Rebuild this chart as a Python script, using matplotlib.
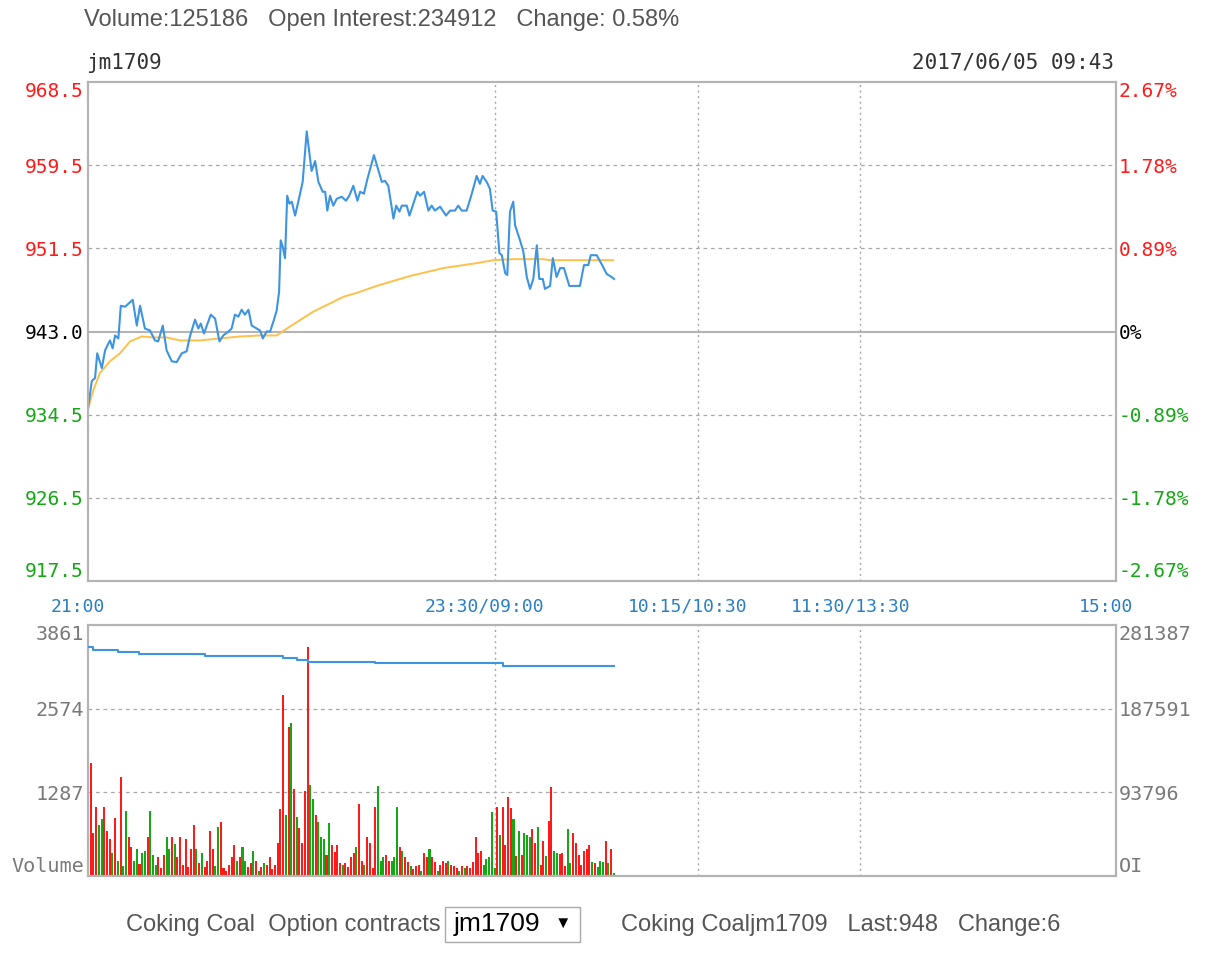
import matplotlib
matplotlib.use("Agg")
import matplotlib.pyplot as plt
from matplotlib.transforms import ScaledTranslation
from matplotlib.patches import Rectangle

W, H = 1211, 968

# contract info
pre_close = 943.0
pct_ticks = [2.67, 1.78, 0.89, 0.0, -0.89, -1.78, -2.67]
price_labels = ["968.5", "959.5", "951.5", "943.0", "934.5", "926.5", "917.5"]
pct_labels = ["2.67%", "1.78%", "0.89%", "0%", "-0.89%", "-1.78%", "-2.67%"]
time_ticks = [0, 150, 225, 285, 379.3]
time_labels = ["21:00", "23:30/09:00", "10:15/10:30", "11:30/13:30", "15:00"]
session_breaks = [150, 225, 285]

vol_max = 3861
oi_max = 281387
vol_ticks = [3861, 2574, 1287, 0]
vol_labels = ["3861", "2574", "1287", "Volume"]
oi_labels = ["281387", "187591", "93796", "OI"]

# price line (minutes from 21:00, price)
price_min = [0, 1.4, 2.6, 3.4, 5.1, 6.3, 8.1, 9.1, 10.0, 11.2,
             12.1, 13.7, 14.9, 16.5, 18.0, 19.2, 21.0, 22.9, 24.7, 25.9,
             27.6, 29.0, 30.9, 32.7, 34.6, 36.4, 37.6, 39.5, 40.7, 41.6,
             42.8, 45.3, 46.9, 48.5, 49.9, 51.8, 53.0, 54.2, 55.5, 56.7,
             57.9, 59.2, 60.4, 62.3, 63.5, 64.5, 65.9, 67.2, 68.4, 69.6,
             70.5, 71.1, 71.8, 72.7, 73.5, 74.3, 75.2, 76.4, 77.6, 79.2,
             80.7, 82.5, 83.8, 85.0, 86.6, 87.5, 88.3, 89.3, 90.5, 91.8,
             93.6, 95.2, 96.4, 97.9, 99.4, 100.4, 101.8, 103.1, 105.5, 108.4,
             109.6, 110.8, 112.7, 113.7, 114.9, 115.8, 117.6, 118.6, 119.8, 121.5,
             122.5, 124.0, 125.6, 126.8, 128.0, 129.9, 132.1, 133.6, 135.4, 136.6,
             137.9, 139.7, 141.6, 143.4, 144.6, 145.6, 147.1, 148.3, 149.3, 150.6,
             151.8, 152.7, 153.9, 154.7, 155.7, 156.9, 157.6, 159.4, 160.6, 161.9,
             163.1, 164.3, 165.6, 166.5, 167.8, 168.6, 170.5, 171.5, 172.9, 174.2,
             175.6, 177.6, 181.5, 183.0, 184.6, 185.5, 187.7, 189.9, 191.4, 193.2,
             194.1]
price_val = [935.2, 938.0, 938.3, 940.8, 939.3, 941.1, 942.1, 941.3, 942.6, 942.3,
             945.6, 945.5, 945.8, 946.2, 943.6, 945.6, 943.3, 943.1, 942.1, 942.0,
             943.6, 941.1, 940.0, 939.9, 940.8, 941.0, 942.5, 944.2, 943.3, 943.8,
             942.8, 944.7, 944.3, 942.0, 942.6, 943.0, 943.3, 944.7, 944.5, 945.2,
             944.7, 945.2, 943.6, 943.3, 943.1, 942.3, 943.0, 943.0, 944.0, 945.1,
             947.0, 952.2, 951.6, 950.4, 956.7, 955.9, 956.1, 954.7, 956.1, 958.1,
             963.2, 959.2, 960.2, 958.1, 957.1, 957.1, 955.2, 956.7, 955.7, 956.4,
             956.6, 956.2, 956.7, 957.7, 956.2, 957.1, 956.9, 958.4, 960.8, 958.1,
             958.2, 957.7, 954.4, 955.7, 955.1, 955.7, 955.7, 954.7, 955.7, 957.1,
             956.7, 957.1, 955.2, 955.7, 955.2, 955.6, 954.7, 955.2, 955.2, 955.7,
             955.2, 955.2, 956.9, 958.7, 957.9, 958.7, 958.1, 957.4, 955.2, 955.1,
             950.9, 950.7, 948.9, 948.7, 955.1, 956.1, 953.7, 952.2, 951.1, 948.5,
             947.3, 948.3, 951.7, 948.3, 948.3, 947.3, 947.6, 950.4, 948.5, 949.4,
             949.4, 947.6, 947.6, 949.7, 949.7, 950.7, 950.7, 949.6, 948.8, 948.5,
             948.3]

# average price line
avg_min = [0, 2.0, 4.4, 8.1, 11.8, 15.5, 19.8, 24.0, 29.0, 33.9,
           41.3, 48.7, 56.1, 63.5, 69.6, 74.5, 83.1, 90.5, 94.2, 99.2,
           106.5, 118.8, 131.1, 143.4, 149.6, 156.9, 168.0, 170.5, 193.8]
avg_val = [935.2, 937.1, 938.8, 940.0, 940.8, 942.0, 942.5, 942.4, 942.4, 942.1,
           942.1, 942.3, 942.5, 942.6, 942.6, 943.5, 945.0, 946.0, 946.5, 946.9,
           947.6, 948.6, 949.4, 949.9, 950.2, 950.3, 950.3, 950.2, 950.2]

# volume per minute, r = up, g = down
volume = [1620, 1733, 656, 1066, 784, 871, 1066, 692, 564, 359,
          886, 231, 1528, 150, 999, 605, 451, 231, 415, 180,
          359, 384, 605, 999, 323, 169, 297, 120, 323, 605,
          415, 605, 487, 297, 605, 169, 564, 144, 415, 784,
          415, 200, 359, 144, 231, 692, 415, 150, 758, 824,
          130, 80, 169, 287, 477, 236, 287, 441, 236, 133,
          195, 390, 236, 82, 133, 195, 169, 287, 113, 169,
          503, 1030, 2784, 938, 2296, 2348, 1333, 912, 738, 503,
          1311, 3527, 1400, 1180, 938, 835, 595, 564, 323, 810,
          477, 374, 477, 195, 169, 195, 133,
          297, 349, 441, 1102, 236, 164, 605, 503, 120, 1066,
          1380, 236, 287, 323, 231, 236, 287, 1056, 441, 390,
          297, 215, 149, 108, 149, 164, 77, 349, 287, 410,
          287, 215, 82, 164, 231, 200, 231, 164, 149, 130,
          77, 149, 130, 149, 130, 215, 595, 349,
          390, 169, 256, 287, 989, 120, 1056, 631, 1056, 477,
          1210, 1041, 872, 308, 698, 323, 656, 631, 605, 718,
          513, 749, 169, 544, 300, 851, 1374, 390, 349, 339,
          354, 149, 718, 200, 656, 513, 323, 169, 390, 410,
          477, 215, 205, 144, 236, 221, 544, 205, 410, 41]
vol_dir = ("rrrrggrrrg" "rgrggrrggr" "ggrgggrrrg" "grgrrrrrrr" "grgrrrrggr"
           "rrrrrgrggr" "rgrgrgrrrr" "rrrgrgrgrr" "rrggrgggrg" "rrrrgrr"
           "rrgrrgrrrr" "gggrrgggrg" "rrgrrrgrrg" "rrgrrrgrrr" "grgrrrrr"
           "rgggggrgr" "r" "rrgrgrgggr" "rgrrgrrggr" "rrggrrrrrr" "rgrgggrgrg")

# open interest steps
oi_min = [0, 2, 11, 19, 43, 72, 77, 81, 106, 153, 194]
oi_val = [256400, 253400, 251100, 248900, 247000, 244800, 242200, 240300, 238400, 234912, 234912]

RED = "#ff1a1a"
GREEN = "#14a814"
BLUE = "#3d94e0"
ORANGE = "#ffc04a"
FRAME = "#b4b4b4"
GRID = "#a8a8a8"
MONO = "DejaVu Sans Mono"

fig = plt.figure(figsize=(W / 100, H / 100), dpi=100)


def fx(px):
    return px / W


def fy(py):
    return 1 - py / H


ax = fig.add_axes([fx(88), fy(581), fx(1116) - fx(88), fy(82) - fy(581)])
axv = fig.add_axes([fx(88), fy(876), fx(1116) - fx(88), fy(625) - fy(876)])

xlim = (0, 379.3)
lo = pre_close * (1 - pct_ticks[0] / 100)
hi = pre_close * (1 + pct_ticks[0] / 100)
ytick_pos = [pre_close * (1 + p / 100) for p in pct_ticks]

# ---- price panel
ax.set_xlim(xlim)
ax.set_ylim(lo, hi)
for yp, p in zip(ytick_pos, pct_ticks):
    if p == 0:
        ax.axhline(yp, color=FRAME, lw=1.5, zorder=1)
    elif abs(p) != pct_ticks[0]:
        ax.axhline(yp, color=GRID, lw=0.9, ls=(0, (3, 3)), zorder=1)
for b in session_breaks:
    ax.axvline(b, color=GRID, lw=1.0, ls=(0, (1.5, 2.5)), zorder=1)

ax.plot(avg_min, avg_val, color=ORANGE, lw=1.4, zorder=3)
ax.plot(price_min, price_val, color=BLUE, lw=1.5, zorder=4)

ax.set_yticks(ytick_pos)
ax.set_yticklabels(price_labels, family=MONO, fontsize=14)
ax.tick_params(axis="y", length=0, pad=3)
ax2 = ax.twinx()
ax2.set_ylim(lo, hi)
ax2.set_yticks(ytick_pos)
ax2.set_yticklabels(pct_labels, family=MONO, fontsize=14)
ax2.tick_params(axis="y", length=0, pad=2)
for lbls in (ax.get_yticklabels(), ax2.get_yticklabels()):
    for t, p in zip(lbls, pct_ticks):
        t.set_color(RED if p > 0 else (GREEN if p < 0 else "black"))
    lbls[0].set_verticalalignment("top")
    lbls[-1].set_verticalalignment("bottom")

ax.set_xticks(time_ticks)
ax.set_xticklabels(time_labels, family=MONO, fontsize=13, color="#2a7fc4")
ax.tick_params(axis="x", length=0, pad=12)
shift = ScaledTranslation(-10 / 100, 0, fig.dpi_scale_trans)
for t in ax.get_xticklabels():
    t.set_transform(t.get_transform() + shift)

for a in (ax, ax2):
    for s in a.spines.values():
        s.set_color(FRAME)
        s.set_linewidth(1.5)

# ---- volume panel
axv.set_xlim(xlim)
axv.set_ylim(0, vol_max)
for v in vol_ticks[1:-1]:
    axv.axhline(v, color=GRID, lw=0.9, ls=(0, (3, 3)), zorder=1)
for b in session_breaks:
    axv.axvline(b, color=GRID, lw=1.0, ls=(0, (1.5, 2.5)), zorder=1)

vol_x = list(range(len(volume)))
bar_colors = [RED if c == "r" else GREEN for c in vol_dir]
axv.bar(vol_x, volume, width=0.75, color=bar_colors, align="center", zorder=2)

axv.set_yticks(vol_ticks)
axv.set_yticklabels(vol_labels, family=MONO, fontsize=14.5, color="#7a7a7a")
axv.tick_params(axis="y", length=0, pad=3)
axv.set_xticks([])
axo = axv.twinx()
axo.set_ylim(0, oi_max)
axo.plot(oi_min, oi_val, color=BLUE, lw=1.5, drawstyle="steps-post", zorder=3)
axo.set_yticks([v * oi_max / vol_max for v in vol_ticks])
axo.set_yticklabels(oi_labels, family=MONO, fontsize=14.5, color="#7a7a7a")
axo.tick_params(axis="y", length=0, pad=2)
for lbls in (axv.get_yticklabels(), axo.get_yticklabels()):
    lbls[0].set_verticalalignment("top")
    lbls[-1].set_verticalalignment("bottom")
for a in (axv, axo):
    for s in a.spines.values():
        s.set_color(FRAME)
        s.set_linewidth(1.5)

# ---- header / footer texts
SANS = ["Liberation Sans", "DejaVu Sans"]
fig.text(fx(84), fy(20), "Volume:125186   Open Interest:234912   Change: 0.58%",
         family=SANS, fontsize=17, color="#555555", va="center")
fig.text(fx(86), fy(63), "jm1709", family=MONO, fontsize=15, color="#333333", va="center")
fig.text(fx(1114), fy(63), "2017/06/05 09:43", family=MONO, fontsize=15, color="#333333",
         va="center", ha="right")

fig.text(fx(126), fy(925), "Coking Coal  Option contracts", family=SANS, fontsize=17,
         color="#555555", va="center")
fig.add_artist(Rectangle((fx(445), fy(942)), fx(580) - fx(445), fy(907) - fy(942),
                         transform=fig.transFigure, fill=False, edgecolor="#a9a9a9", lw=1))
fig.text(fx(454), fy(924), "jm1709", family=SANS, fontsize=19, color="black", va="center")
fig.text(fx(555), fy(923), "\u25bc", family=SANS, fontsize=12, color="black", va="center")
fig.text(fx(621), fy(925), "Coking Coaljm1709   Last:948   Change:6", family=SANS,
         fontsize=17, color="#555555", va="center")

fig.savefig("out.png", dpi=100, facecolor="white")
